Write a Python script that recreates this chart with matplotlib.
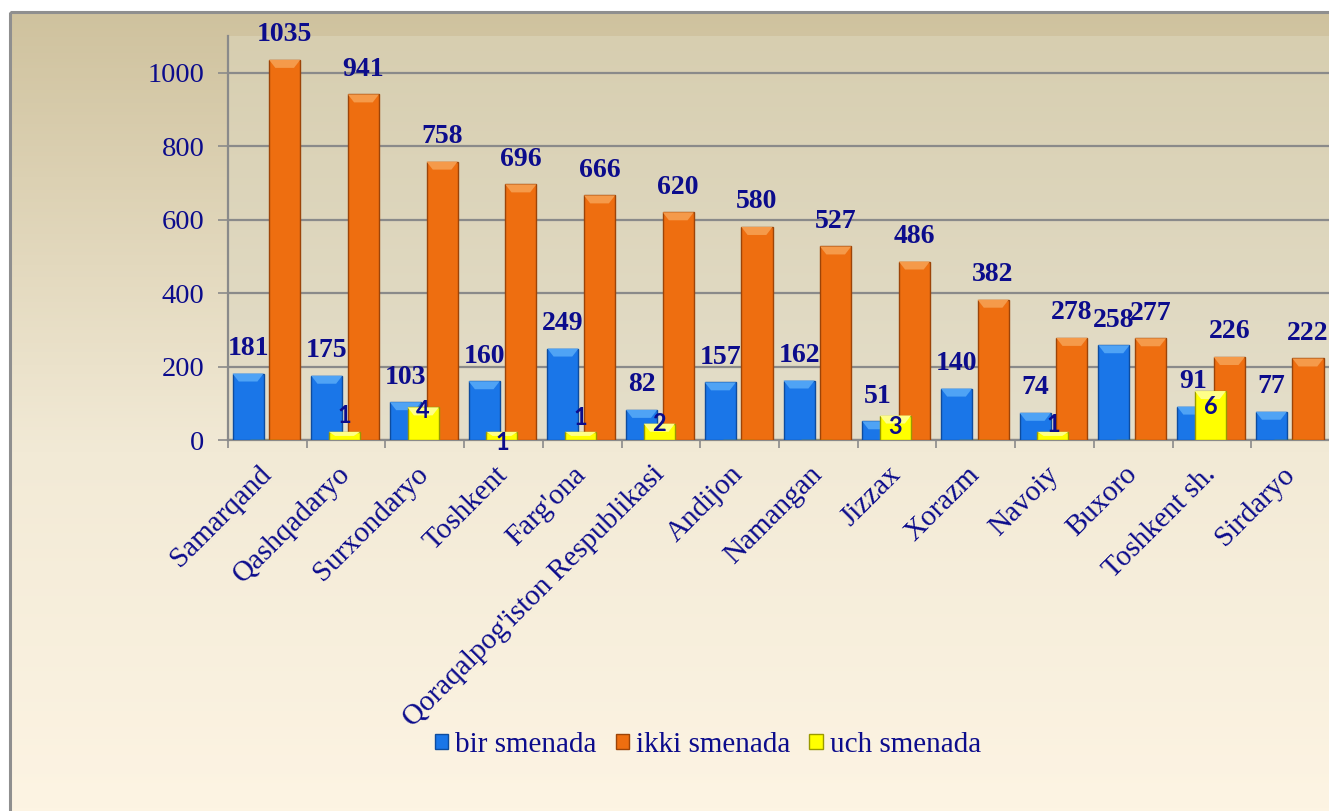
import numpy as np
import matplotlib
matplotlib.use('Agg')
import matplotlib.pyplot as plt
from matplotlib.colors import LinearSegmentedColormap
from matplotlib.patches import Rectangle, Polygon

# data
regions = ['Samarqand', 'Qashqadaryo', 'Surxondaryo', 'Toshkent', "Farg'ona",
           "Qoraqalpog'iston Respublikasi", 'Andijon', 'Namangan', 'Jizzax',
           'Xorazm', 'Navoiy', 'Buxoro', 'Toshkent sh.', 'Sirdaryo']
bir = [181, 175, 103, 160, 249, 82, 157, 162, 51, 140, 74, 258, 91, 77]
ikki = [1035, 941, 758, 696, 666, 620, 580, 527, 486, 382, 278, 277, 226, 222]
uch = [0, 1, 4, 1, 1, 2, 0, 0, 3, 0, 1, 0, 6, 0]
series_names = ['bir smenada', 'ikki smenada', 'uch smenada']

# label nudges for the yellow series (points, + is up)
uch_label_dy = [0, 12, -2, -8, 10, 0, 0, 0, -8, 0, 5, 0, -11, 0]

navy = '#0c0c8c'
serif = 'Liberation Serif'

W, H = 1329, 811
fig = plt.figure(figsize=(W / 100, H / 100), dpi=100)
fig.patch.set_facecolor('white')

# background with gradient + frame
bg = fig.add_axes([0, 0, 1, 1])
bg.set_xlim(0, W)
bg.set_ylim(H, 0)
bg.axis('off')
outer = LinearSegmentedColormap.from_list(
    'outer', [(0, '#cfc29e'), (0.55, '#f2ead6'), (1, '#fdf4e3')])
grad = np.linspace(0, 1, 256).reshape(-1, 1)
bg.imshow(grad, cmap=outer, extent=(10, W + 10, H, 12), aspect='auto')
bg.add_patch(Rectangle((10, 12), W, H, fill=False, ec='#8f8f8f', lw=2.2))

# main axes
ax = fig.add_axes([228 / W, (H - 440) / H, 1102 / W, 404 / H])
ax.patch.set_alpha(0)
inner = LinearSegmentedColormap.from_list('inner', ['#d7ceb0', '#e5dfcb'])
ax.imshow(grad, cmap=inner, extent=(0, 1, 0, 1), transform=ax.transAxes,
          aspect='auto', zorder=0)

x = np.arange(len(regions))
bw = 0.395
ax.set_xlim(-0.5, len(regions) - 0.5)
ax.set_ylim(0, 1100)

b1 = ax.bar(x - 0.245, bir, bw, color='#1a76e8', ec='#0e4c9e', lw=1, zorder=3,
            label=series_names[0])
b2 = ax.bar(x + 0.22, ikki, bw, color='#ee6e10', ec='#9c4408', lw=1, zorder=3,
            label=series_names[1])

# yellow series on its own hidden scale
ax2 = ax.twinx()
ax2.set_ylim(0, 49.5)
ax2.axis('off')
b3 = ax2.bar(x - 0.02, uch, bw, color='#ffff00', ec='#9a9a00', lw=1, zorder=3,
             label=series_names[2])


def bevel(a, bars, light):
    # lighter top facet to mimic the 3D bevel
    for p in bars:
        h = p.get_height()
        if h <= 0:
            continue
        x0, w = p.get_x(), p.get_width()
        top = p.get_y() + h
        pix = a.transData.transform([(x0, top), (x0, 0)])
        dy = min(8, (pix[0][1] - pix[1][1]) * 0.5)
        yb = a.transData.inverted().transform((pix[0][0], pix[0][1] - dy))[1]
        a.add_patch(Polygon([(x0, top), (x0 + w, top), (x0 + w * 0.8, yb),
                             (x0 + w * 0.2, yb)], closed=True, fc=light,
                            ec='none', zorder=4))


ax.grid(axis='y', color='#8a8a8a', lw=1.6, zorder=1)
ax.set_axisbelow(True)
ax.set_yticks(range(0, 1001, 200))
ax.tick_params(axis='y', length=7, width=1.2, color='#8a8a8a', pad=10,
               labelsize=20.5, labelcolor=navy)
for t in ax.get_yticklabels():
    t.set_fontfamily(serif)

ax.set_xticks(x)
ax.set_xticklabels(regions, rotation=45, ha='right', va='center',
                   rotation_mode='anchor', fontsize=21, color=navy,
                   fontfamily=serif)
ax.tick_params(axis='x', which='major', length=0, pad=22)
ax.set_xticks(np.arange(-0.5, len(regions), 1), minor=True)
ax.tick_params(axis='x', which='minor', length=6, width=1.2, color='#8a8a8a')

for s in ['top', 'right']:
    ax.spines[s].set_visible(False)
for s in ['left', 'bottom']:
    ax.spines[s].set_color('#8a8a8a')
    ax.spines[s].set_linewidth(1.6)

fig.canvas.draw()
bevel(ax, b1, '#4fa3f5')
bevel(ax, b2, '#f59a4a')
bevel(ax2, b3, '#ffff88')

# value labels
for bars, vals in ((b1, bir), (b2, ikki)):
    for p, v in zip(bars, vals):
        ax.annotate(str(v), (p.get_x() + p.get_width() / 2, p.get_height()),
                    xytext=(0, 18), textcoords='offset points', ha='center',
                    va='center', fontsize=20, fontweight='bold', color=navy,
                    fontfamily=serif, zorder=6, annotation_clip=False)
for p, v, dy in zip(b3, uch, uch_label_dy):
    if v == 0:
        continue
    ax2.annotate(str(v), (p.get_x() + p.get_width() / 2, p.get_height()),
                 xytext=(0, dy), textcoords='offset points', ha='center',
                 va='center', fontsize=17, fontweight='bold', color=navy,
                 fontfamily='Lato', zorder=6, annotation_clip=False)

handles = [b1, b2, b3]
fig.legend(handles, series_names, loc='center', bbox_to_anchor=(708 / W, 1 - 745 / H),
           ncol=3, frameon=False, handlelength=0.45, handleheight=0.45,
           handletextpad=0.25, columnspacing=0.65,
           prop={'family': serif, 'size': 21}, labelcolor=navy)

fig.savefig('out.png', dpi=100)
